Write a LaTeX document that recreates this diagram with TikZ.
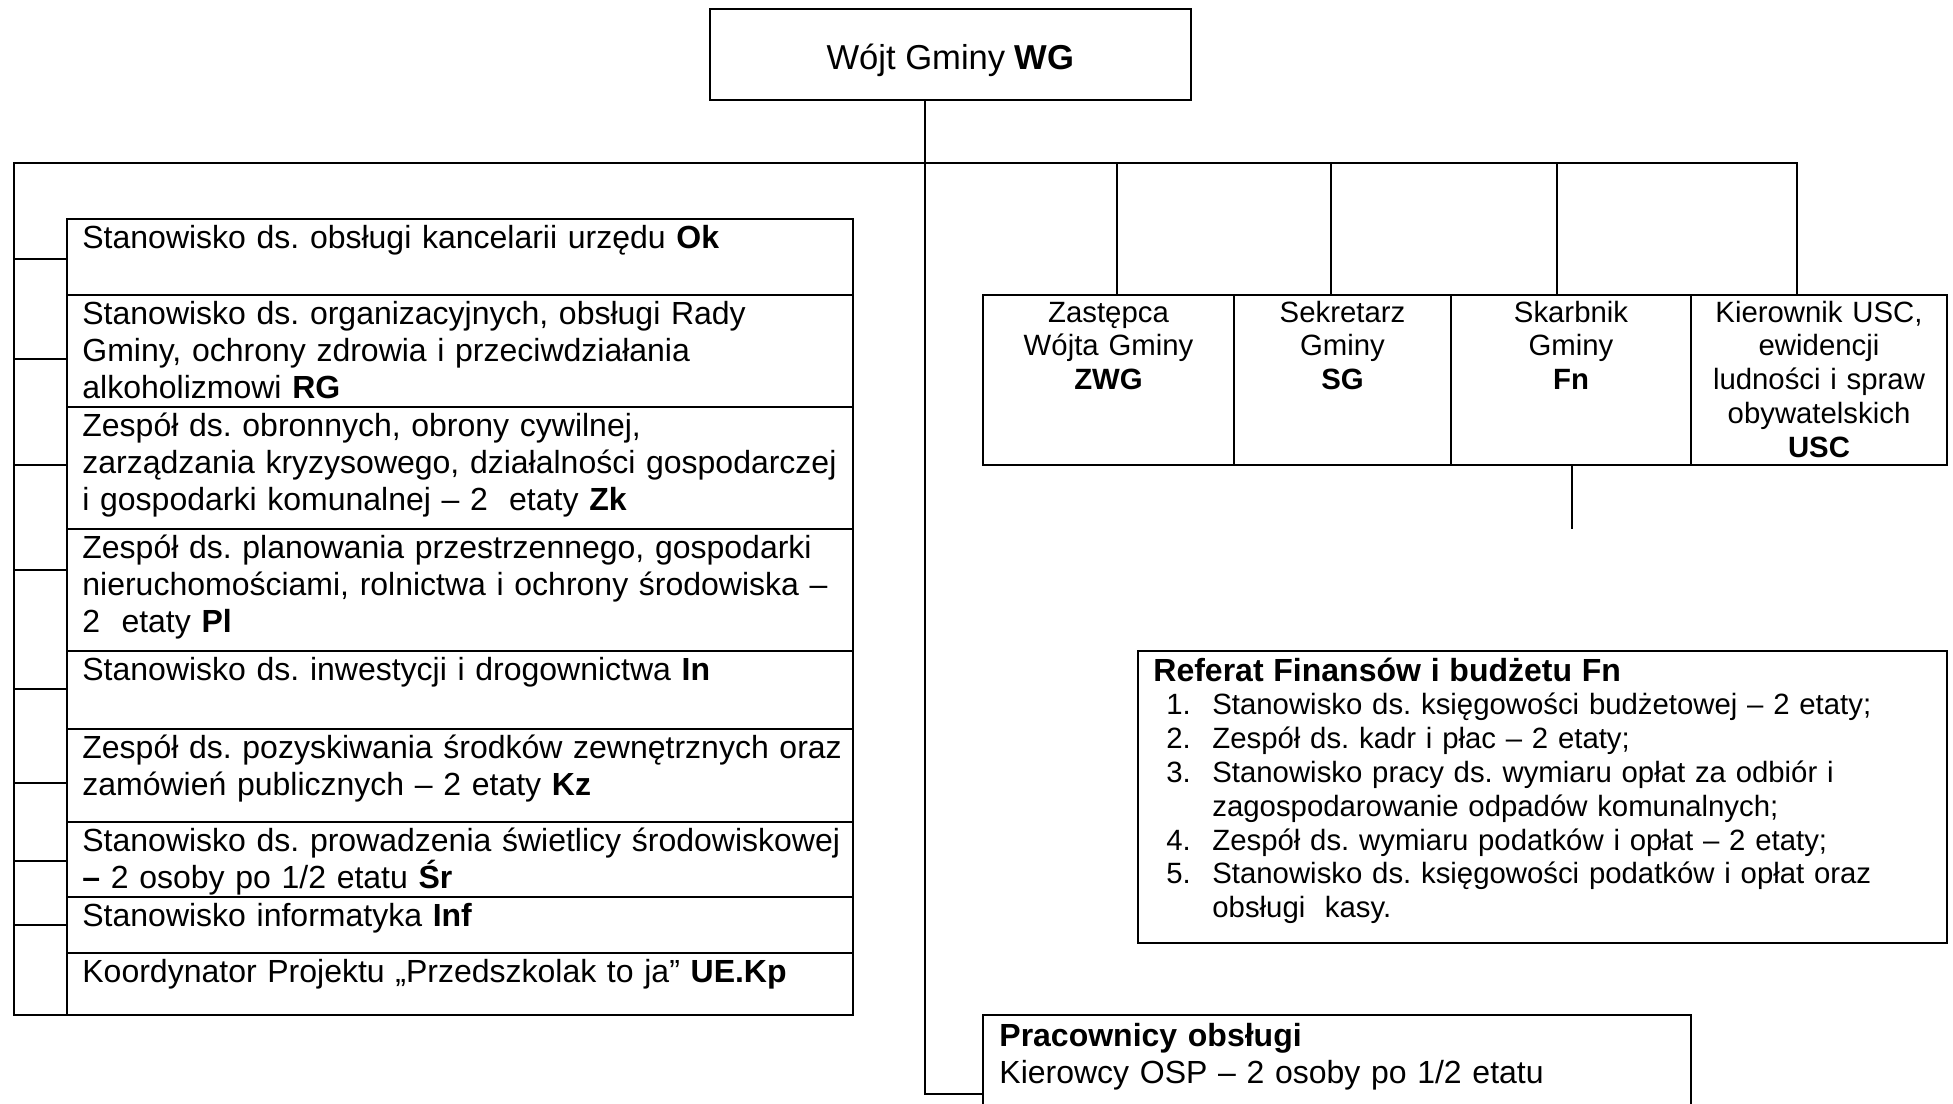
\documentclass[tikz,border=0pt]{standalone}
\usepackage{fontspec}
\setmainfont{Liberation Sans}
\usetikzlibrary{calc}
\frenchspacing
\newcommand\fntA{\fontsize{16}{18.5}\selectfont}
\newcommand\fntB{\fontsize{14.67}{16.9}\selectfont}
\newcommand\fntC{\fontsize{17.3}{20}\selectfont}
\tikzset{
  box/.style={draw, line width=1.3pt, inner sep=0pt, outer sep=0pt, anchor=north west},
  conn/.style={line width=1pt},
  lbl/.style={anchor=base west, inner sep=0pt, text width=385pt, align=left, font=\fntA},
  clbl/.style={anchor=base, inner sep=0pt, align=center, font=\fntB},
}
\begin{document}
\begin{tikzpicture}[x=0.5pt,y=-0.5pt]
\path[use as bounding box] (0,0) rectangle (1953,1103);
\clip (0,0) rectangle (1953,1103);

% top
\node[box, minimum width=240.5pt, minimum height=45.5pt, text height=14.5pt, text depth=0pt, font=\fntC\frenchspacing] (wg) at (710,9) {Wójt Gminy \textbf{WG}};

% left column
\node[box, minimum width=393pt, minimum height=38pt] (r1) at (67,219) {};
\node[box, minimum width=393pt, minimum height=56pt] (r2) at (r1.south west) {};
\node[box, minimum width=393pt, minimum height=61pt] (r3) at (r2.south west) {};
\node[box, minimum width=393pt, minimum height=61pt] (r4) at (r3.south west) {};
\node[box, minimum width=393pt, minimum height=39pt] (r5) at (r4.south west) {};
\node[box, minimum width=393pt, minimum height=46.5pt] (r6) at (r5.south west) {};
\node[box, minimum width=393pt, minimum height=37.5pt] (r7) at (r6.south west) {};
\node[box, minimum width=393pt, minimum height=28pt] (r8) at (r7.south west) {};
\node[box, minimum width=393pt, minimum height=31pt] (r9) at (r8.south west) {};

\node[lbl] (r1t) at ($(r1.north west)+(15,29)$) {Stanowisko ds. obsługi kancelarii urzędu \textbf{Ok}};
\node[lbl] (r2t) at ($(r2.north west)+(15,29)$) {Stanowisko ds. organizacyjnych, obsługi Rady\\Gminy, ochrony zdrowia i przeciwdziałania\\alkoholizmowi \textbf{RG}};
\node[lbl] (r3t) at ($(r3.north west)+(15,29)$) {Zespół ds. obronnych, obrony cywilnej,\\zarządzania kryzysowego, działalności gospodarczej\\i gospodarki komunalnej – 2\ \ etaty \textbf{Zk}};
\node[lbl] (r4t) at ($(r4.north west)+(15,29)$) {Zespół ds. planowania przestrzennego, gospodarki\\nieruchomościami, rolnictwa i ochrony środowiska –\\2\ \ etaty \textbf{Pl}};
\node[lbl] (r5t) at ($(r5.north west)+(15,29)$) {Stanowisko ds. inwestycji i drogownictwa \textbf{In}};
\node[lbl] (r6t) at ($(r6.north west)+(15,29)$) {Zespół ds. pozyskiwania środków zewnętrznych oraz\\zamówień publicznych – 2 etaty \textbf{Kz}};
\node[lbl] (r7t) at ($(r7.north west)+(15,29)$) {Stanowisko ds. prowadzenia świetlicy środowiskowej\\\textbf{–} 2 osoby po 1/2 etatu \textbf{Śr}};
\node[lbl] (r8t) at ($(r8.north west)+(15,29)$) {Stanowisko informatyka \textbf{Inf}};
\node[lbl] (r9t) at ($(r9.north west)+(15,29)$) {Koordynator Projektu „Przedszkolak to ja” \textbf{UE.Kp}};

% right boxes
\node[box, minimum width=125.5pt, minimum height=85pt] (zwg) at (983,295) {};
\node[box, minimum width=108.5pt, minimum height=85pt] (sg) at (1234,295) {};
\node[box, minimum width=120pt, minimum height=85pt] (fn) at (1451,295) {};
\node[box, minimum width=128pt, minimum height=85pt] (usc) at (1691,295) {};

\node[clbl, text width=120pt] (zwgt) at ($(zwg.north)+(0,27)$) {Zastępca\\Wójta Gminy\\\textbf{ZWG}};
\node[clbl, text width=104pt] (sgt) at ($(sg.north)+(0,27)$) {Sekretarz\\Gminy\\\textbf{SG}};
\node[clbl, text width=115pt] (fnt) at ($(fn.north)+(0,27)$) {Skarbnik\\Gminy\\\textbf{Fn}};
\node[clbl, text width=124pt] (usct) at ($(usc.north)+(0,27)$) {Kierownik USC,\\ewidencji\\ludności i spraw\\obywatelskich\\\textbf{USC}};

% Referat
\node[box, minimum width=404.5pt, minimum height=146pt] (ref) at (1138,651) {};
\node[lbl, text width=395pt, font=\fntB] (reft) at ($(ref.north west)+(15,30)$) {%
{\fntA\bfseries Referat Finansów i budżetu Fn}\\
\hspace*{6.5pt}\makebox[23pt][l]{1.}Stanowisko ds. księgowości budżetowej – 2 etaty;\\
\hspace*{6.5pt}\makebox[23pt][l]{2.}Zespół ds. kadr i płac – 2 etaty;\\
\hspace*{6.5pt}\makebox[23pt][l]{3.}Stanowisko pracy ds. wymiaru opłat za odbiór i\\
\hspace*{29.5pt}zagospodarowanie odpadów komunalnych;\\
\hspace*{6.5pt}\makebox[23pt][l]{4.}Zespół ds. wymiaru podatków i opłat – 2 etaty;\\
\hspace*{6.5pt}\makebox[23pt][l]{5.}Stanowisko ds. księgowości podatków i opłat oraz\\
\hspace*{29.5pt}obsługi\ \ kasy.};

% Pracownicy
\node[box, minimum width=354pt, minimum height=70pt] (prac) at (983,1015) {};
\node[lbl, text width=340pt] (pract) at ($(prac.north west)+(16,31)$) {\textbf{Pracownicy obsługi}\\Kierowcy OSP – 2 osoby po 1/2 etatu};

% connectors
\coordinate (lt) at (14,163);
\coordinate (lb) at (14,1015);
\coordinate (rt) at (1797,163);
\draw[conn] (r9.south west) -- (lb) -- (lt) -- (rt) -- (rt |- usc.north);
\foreach \r/\yy in {r1/259, r2/359, r3/465, r4/570, r5/689, r6/783, r7/861, r8/925} {
  \coordinate (k\r) at (14,\yy);
  \draw[conn] (k\r) -- (k\r -| \r.west);
}
\coordinate (d1) at (1117,163);
\coordinate (d2) at (1331,163);
\coordinate (d3) at (1557,163);
\draw[conn] (d1) -- (d1 |- zwg.north);
\draw[conn] (d2) -- (d2 |- sg.north);
\draw[conn] (d3) -- (d3 |- fn.north);
\coordinate (mv) at (925,1094);
\draw[conn] (mv |- wg.south) -- (mv) -- (mv -| prac.west);
\coordinate (fd) at (1572,529);
\draw[conn] (fd |- fn.south) -- (fd);
\end{tikzpicture}
\end{document}
